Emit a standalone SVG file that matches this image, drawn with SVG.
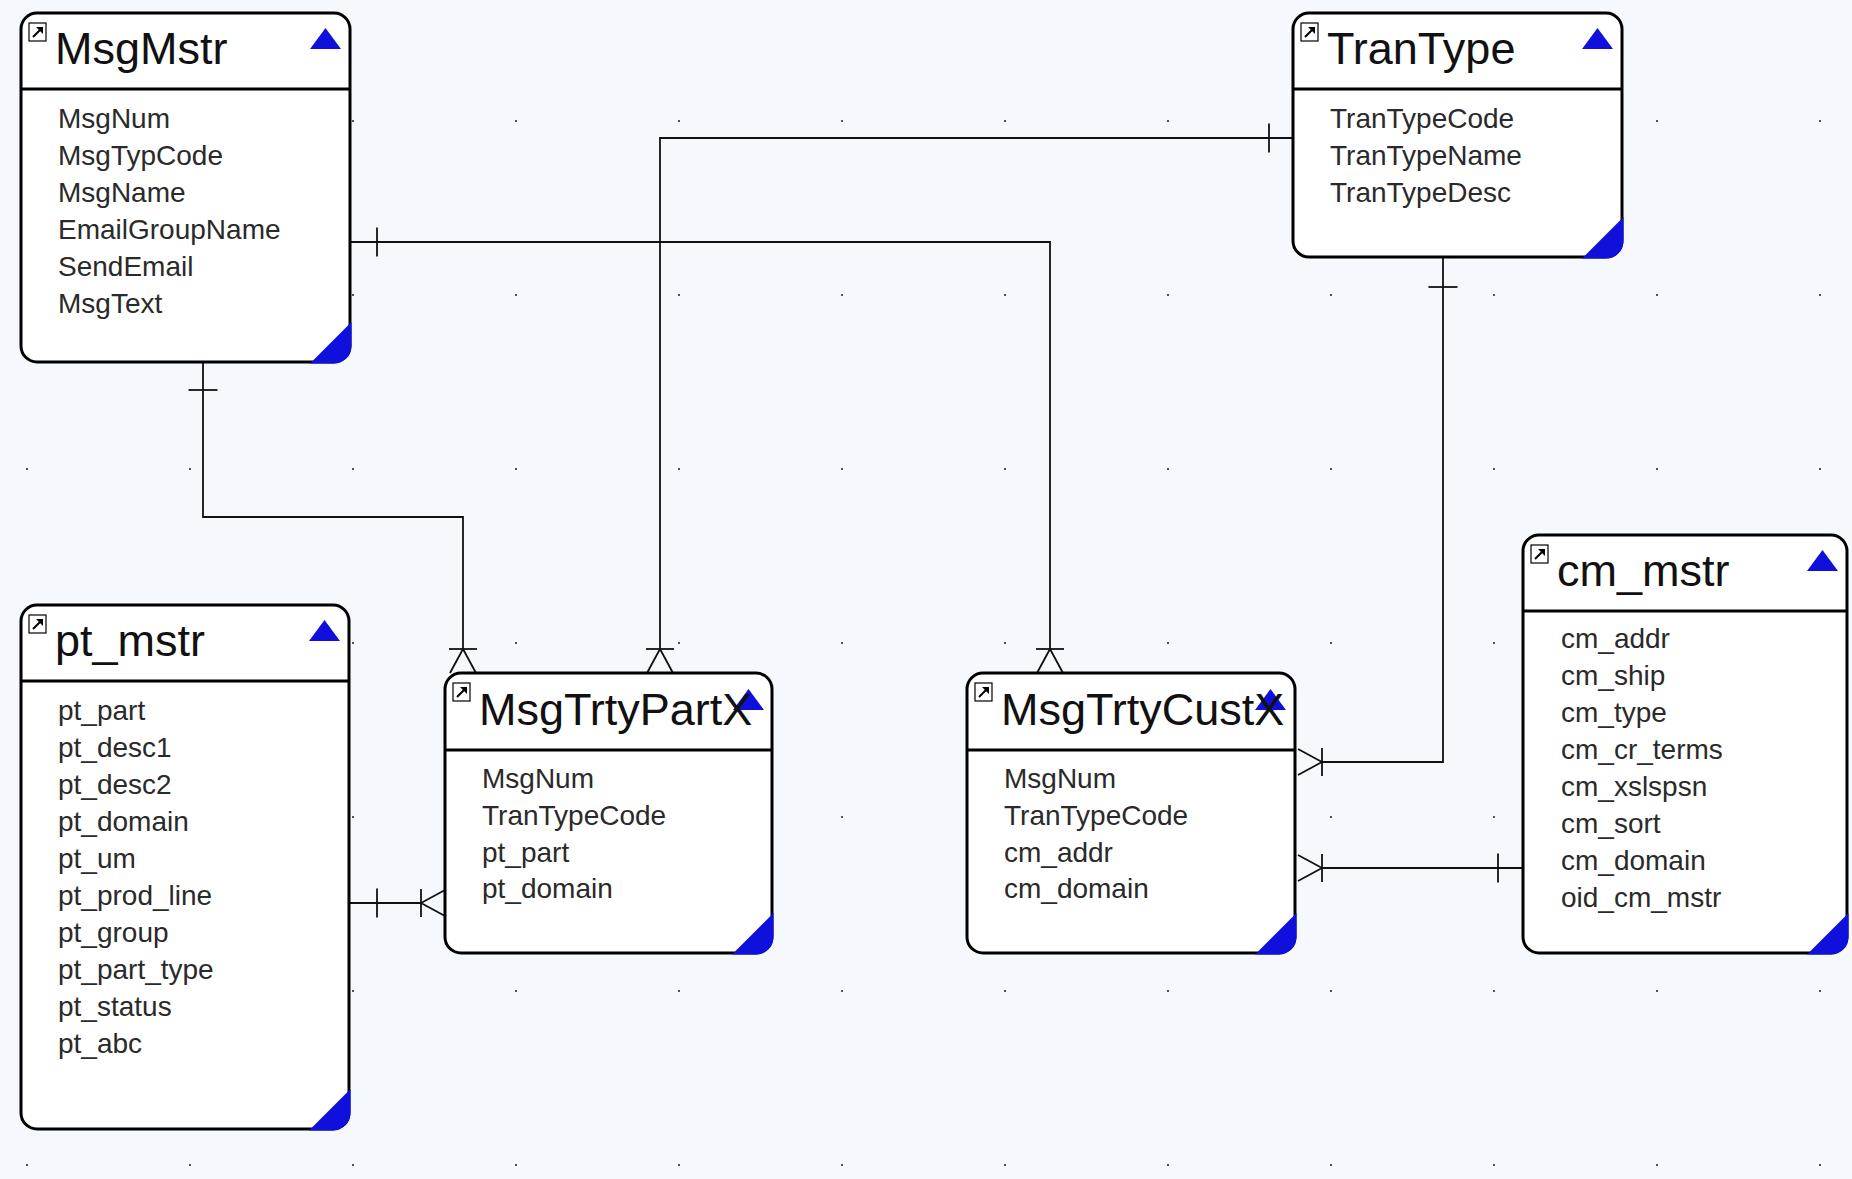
<svg xmlns="http://www.w3.org/2000/svg" xmlns:xlink="http://www.w3.org/1999/xlink" width="1852" height="1179" viewBox="0 0 1852 1179">
  <style>
    .frame { fill: #ffffff; stroke: #000000; stroke-width: 3; }
    .rule { stroke: #000000; stroke-width: 3; }
    .title { font-family: "Liberation Sans", Arial, sans-serif; font-size: 45px; fill: #111111; }
    .attr { font-family: "Liberation Sans", Arial, sans-serif; font-size: 28px; fill: #2a2a2a; }
    .mark { fill: #1010dc; }
    .link { fill: none; stroke: #111111; stroke-width: 1.8; }
    .icon-box { fill: #ffffff; stroke: #000000; stroke-width: 1.2; }
  </style>
  <defs>
    <pattern id="grid" patternUnits="userSpaceOnUse" x="26" y="120" width="163" height="174">
      <rect x="0" y="0" width="2" height="2" fill="#505050"/>
    </pattern>
    <!-- shortcut icon shown in each table's top-left corner -->
    <g id="shortcut">
      <rect class="icon-box" x="0" y="0" width="17" height="18"/>
      <path d="M4 14 L11 7" stroke="#000" stroke-width="2" fill="none"/>
      <path d="M7 4 L14 4 L14 11 Z" fill="#000"/>
    </g>
    <!-- "one" bar, drawn across a vertical line -->
    <path id="bar-h" d="M-14.5 0 H14.5" class="link"/>
    <!-- "one or more" crow's foot: bar at the apex, feet 24px further along +y -->
    <g id="crow">
      <path d="M-14 0 H14" class="link"/>
      <path d="M0 0 L-13 24 M0 0 L13 24" class="link"/>
    </g>
  </defs>

  <rect x="0" y="0" width="1852" height="1179" fill="#f5f8fd"/>
  <rect x="0" y="0" width="1852" height="1179" fill="url(#grid)"/>

  <!-- relationship lines -->
  <g id="connectors">
    <path class="link" d="M203 363 V517 H463 V649"/>
    <path class="link" d="M1293 138 H660 V649"/>
    <path class="link" d="M350 242 H1050 V649"/>
    <path class="link" d="M1443 257 V762 H1322"/>
    <path class="link" d="M1523 868 H1322"/>
    <path class="link" d="M349 903 H421"/>

    <use xlink:href="#bar-h" transform="translate(203,390)"/>
    <use xlink:href="#bar-h" transform="translate(1269,138) rotate(90)"/>
    <use xlink:href="#bar-h" transform="translate(377,242) rotate(90)"/>
    <use xlink:href="#bar-h" transform="translate(1443,287)"/>
    <use xlink:href="#bar-h" transform="translate(1498,868) rotate(90)"/>
    <use xlink:href="#bar-h" transform="translate(377,903) rotate(90)"/>

    <use xlink:href="#crow" transform="translate(463,649)"/>
    <use xlink:href="#crow" transform="translate(660,649)"/>
    <use xlink:href="#crow" transform="translate(1050,649)"/>
    <use xlink:href="#crow" transform="translate(1322,762) rotate(90)"/>
    <use xlink:href="#crow" transform="translate(1322,868) rotate(90)"/>
    <use xlink:href="#crow" transform="translate(421,903) rotate(-90)"/>
  </g>

  <!-- MsgMstr -->
  <g id="MsgMstr">
    <rect class="frame" x="21" y="13" width="329" height="349" rx="16"/>
    <line class="rule" x1="21" y1="89" x2="350" y2="89"/>
    <use xlink:href="#shortcut" x="29" y="23"/>
    <path class="mark" d="M310 49 L341 49 L325.5 28 Z"/>
    <path class="mark" d="M310 363.5 L351.5 322 V346 A17.5 17.5 0 0 1 334 363.5 Z"/>
    <text class="title" x="55" y="64">MsgMstr</text>
    <text class="attr" x="58" y="128">MsgNum</text>
    <text class="attr" x="58" y="165">MsgTypCode</text>
    <text class="attr" x="58" y="202">MsgName</text>
    <text class="attr" x="58" y="239">EmailGroupName</text>
    <text class="attr" x="58" y="276">SendEmail</text>
    <text class="attr" x="58" y="313">MsgText</text>
  </g>

  <!-- TranType -->
  <g id="TranType">
    <rect class="frame" x="1293" y="13" width="329" height="244" rx="16"/>
    <line class="rule" x1="1293" y1="89" x2="1622" y2="89"/>
    <use xlink:href="#shortcut" x="1301" y="23"/>
    <path class="mark" d="M1582 49 L1613 49 L1597.5 28 Z"/>
    <path class="mark" d="M1582 258.5 L1623.5 217 V241 A17.5 17.5 0 0 1 1606 258.5 Z"/>
    <text class="title" x="1327" y="64">TranType</text>
    <text class="attr" x="1330" y="128">TranTypeCode</text>
    <text class="attr" x="1330" y="165">TranTypeName</text>
    <text class="attr" x="1330" y="202">TranTypeDesc</text>
  </g>

  <!-- pt_mstr -->
  <g id="pt_mstr">
    <rect class="frame" x="21" y="605" width="328" height="524" rx="16"/>
    <line class="rule" x1="21" y1="681" x2="349" y2="681"/>
    <use xlink:href="#shortcut" x="29" y="615"/>
    <path class="mark" d="M309 641 L340 641 L324.5 620 Z"/>
    <path class="mark" d="M309 1130.5 L350.5 1089 V1113 A17.5 17.5 0 0 1 333 1130.5 Z"/>
    <text class="title" x="55" y="656">pt_mstr</text>
    <text class="attr" x="58" y="720">pt_part</text>
    <text class="attr" x="58" y="757">pt_desc1</text>
    <text class="attr" x="58" y="794">pt_desc2</text>
    <text class="attr" x="58" y="831">pt_domain</text>
    <text class="attr" x="58" y="868">pt_um</text>
    <text class="attr" x="58" y="905">pt_prod_line</text>
    <text class="attr" x="58" y="942">pt_group</text>
    <text class="attr" x="58" y="979">pt_part_type</text>
    <text class="attr" x="58" y="1016">pt_status</text>
    <text class="attr" x="58" y="1053">pt_abc</text>
  </g>

  <!-- MsgTrtyPartX -->
  <g id="MsgTrtyPartX">
    <rect class="frame" x="445" y="673" width="327" height="280" rx="16"/>
    <line class="rule" x1="445" y1="750" x2="772" y2="750"/>
    <use xlink:href="#shortcut" x="453" y="683"/>
    <path class="mark" d="M733 710 L764 710 L748.5 689 Z"/>
    <path class="mark" d="M732 954.5 L773.5 913 V937 A17.5 17.5 0 0 1 756 954.5 Z"/>
    <text class="title" x="479" y="725">MsgTrtyPartX</text>
    <text class="attr" x="482" y="788">MsgNum</text>
    <text class="attr" x="482" y="825">TranTypeCode</text>
    <text class="attr" x="482" y="862">pt_part</text>
    <text class="attr" x="482" y="898">pt_domain</text>
  </g>

  <!-- MsgTrtyCustX -->
  <g id="MsgTrtyCustX">
    <rect class="frame" x="967" y="673" width="328" height="280" rx="16"/>
    <line class="rule" x1="967" y1="750" x2="1295" y2="750"/>
    <use xlink:href="#shortcut" x="975" y="683"/>
    <path class="mark" d="M1255 710 L1286 710 L1270.5 689 Z"/>
    <path class="mark" d="M1255 954.5 L1296.5 913 V937 A17.5 17.5 0 0 1 1279 954.5 Z"/>
    <text class="title" x="1001" y="725">MsgTrtyCustX</text>
    <text class="attr" x="1004" y="788">MsgNum</text>
    <text class="attr" x="1004" y="825">TranTypeCode</text>
    <text class="attr" x="1004" y="862">cm_addr</text>
    <text class="attr" x="1004" y="898">cm_domain</text>
  </g>

  <!-- cm_mstr -->
  <g id="cm_mstr">
    <rect class="frame" x="1523" y="535" width="324" height="418" rx="16"/>
    <line class="rule" x1="1523" y1="611" x2="1847" y2="611"/>
    <use xlink:href="#shortcut" x="1531" y="545"/>
    <path class="mark" d="M1807 571 L1838 571 L1822.5 550 Z"/>
    <path class="mark" d="M1807 954.5 L1848.5 913 V937 A17.5 17.5 0 0 1 1831 954.5 Z"/>
    <text class="title" x="1557" y="586">cm_mstr</text>
    <text class="attr" x="1561" y="648">cm_addr</text>
    <text class="attr" x="1561" y="685">cm_ship</text>
    <text class="attr" x="1561" y="722">cm_type</text>
    <text class="attr" x="1561" y="759">cm_cr_terms</text>
    <text class="attr" x="1561" y="796">cm_xslspsn</text>
    <text class="attr" x="1561" y="833">cm_sort</text>
    <text class="attr" x="1561" y="870">cm_domain</text>
    <text class="attr" x="1561" y="907">oid_cm_mstr</text>
  </g>
</svg>
